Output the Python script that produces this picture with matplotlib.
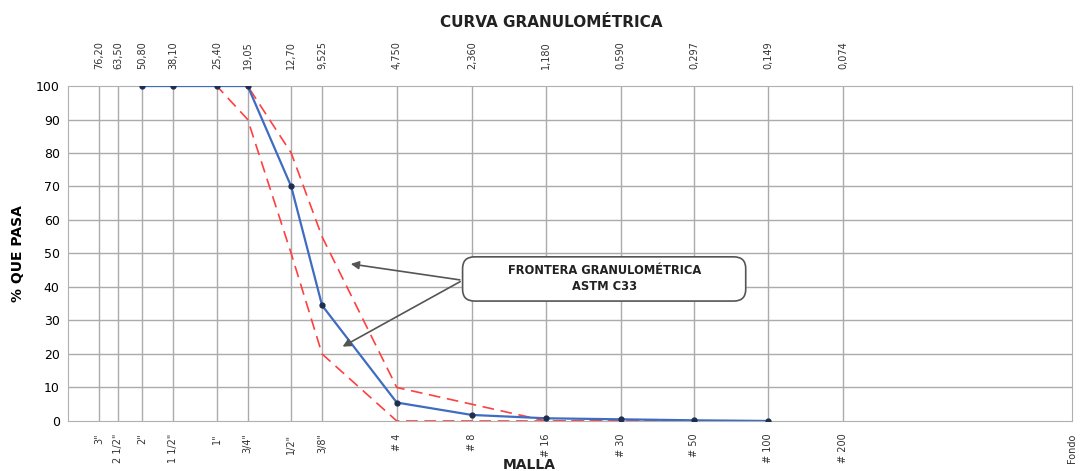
import numpy as np
import matplotlib
matplotlib.use('Agg')
import matplotlib.pyplot as plt
from matplotlib.ticker import NullLocator, FixedLocator
from matplotlib.patches import FancyBboxPatch

# sieve openings (mm) and names
sizes = [76.2, 63.5, 50.8, 38.1, 25.4, 19.05, 12.7, 9.525, 4.75, 2.36, 1.18, 0.59, 0.297, 0.149, 0.074, 0.0088]
size_labels = ['76,20', '63,50', '50,80', '38,10', '25,40', '19,05', '12,70', '9,525', '4,750',
               '2,360', '1,180', '0,590', '0,297', '0,149', '0,074', '']
sieve_labels = ['3"', '2 1/2"', '2"', '1 1/2"', '1"', '3/4"', '1/2"', '3/8"', '# 4', '# 8',
                '# 16', '# 30', '# 50', '# 100', '# 200', 'Fondo']

# sample curve
sample_sizes = [50.8, 38.1, 25.4, 19.05, 12.7, 9.525, 4.75, 2.36, 1.18, 0.59, 0.297, 0.149]
sample_pass = [100, 100, 100, 100, 70, 34.5, 5.5, 1.8, 0.8, 0.5, 0.2, 0]

# ASTM C33 limits
lim_sizes = [101.6, 76.2, 63.5, 50.8, 38.1, 25.4, 19.05, 12.7, 9.525, 4.75, 2.36, 1.18, 0.59, 0.297, 0.149]
upper = [100, 100, 100, 100, 100, 100, 100, 80, 55, 10, 5, 0, 0, 0, 0]
lower = [100, 100, 100, 100, 100, 100, 90, 50, 20, 0, 0, 0, 0, 0, 0]

fig = plt.figure(figsize=(10.81, 4.71), dpi=100)
ax = fig.add_axes([0.0629, 0.1062, 0.9288, 0.7112])
ax.set_xscale('log')
ax.set_xlim(101.6, 0.0088)
ax.set_ylim(0, 100)

grid_c = '#ababab'
for s in sizes[:-1]:
    ax.axvline(s, color=grid_c, lw=1.0, zorder=0)
for y in range(10, 100, 10):
    ax.axhline(y, color=grid_c, lw=1.0, zorder=0)
for sp in ax.spines.values():
    sp.set_color('#b0b0b0')

ax.plot(lim_sizes, upper, color='#ff4040', lw=1.2, ls=(0, (7, 4)), zorder=2)
ax.plot(lim_sizes, lower, color='#ff4040', lw=1.2, ls=(0, (7, 4)), zorder=2)
ax.plot(sample_sizes, sample_pass, color='#3f6cc0', lw=1.6, marker='o', ms=3.5,
        mfc='#1f2d4f', mec='#1f2d4f', zorder=3)

ax.xaxis.set_minor_locator(NullLocator())
ax.xaxis.set_major_locator(FixedLocator(sizes))
ax.set_xticklabels(sieve_labels, rotation=90, va='top', fontsize=7, color='#333333')
ax.set_yticks(range(0, 101, 10))
ax.tick_params(axis='y', length=0, labelsize=9, pad=6)
ax.tick_params(axis='x', length=0, pad=9)

top = ax.secondary_xaxis('top')
top.xaxis.set_minor_locator(NullLocator())
top.set_xticks(sizes)
top.set_xticklabels(size_labels, rotation=90, va='bottom', fontsize=7, color='#333333')
top.tick_params(length=0, pad=12)
top.spines['top'].set_visible(False)

ax.set_ylabel('% QUE PASA', fontsize=10, fontweight='bold', labelpad=8)
fig.text(0.49, 0.013, 'MALLA', ha='center', va='center', fontsize=10, fontweight='bold', color='#222222')
fig.text(0.51, 0.953, 'CURVA GRANULOMÉTRICA', ha='center', va='center', fontsize=11, fontweight='bold',
         color='#222222')

# annotation box (axes fraction)
box = FancyBboxPatch((0.393, 0.358), 0.282, 0.132, boxstyle='round,pad=0,rounding_size=0.012',
                     transform=ax.transAxes, fc='white', ec='#555555', lw=1.2, zorder=5,
                     mutation_aspect=2.9)
ax.add_patch(box)
ax.text(0.534, 0.424, 'FRONTERA GRANULOMÉTRICA\nASTM C33', transform=ax.transAxes, ha='center',
        va='center', fontsize=8.3, fontweight='bold', zorder=6, linespacing=1.3, color='#222222')
arrow = dict(arrowstyle='-|>', color='#555555', lw=1.2, mutation_scale=12)
ax.annotate('', xy=(7.48, 47), xytext=(0.393, 0.42), textcoords='axes fraction', arrowprops=arrow, zorder=4)
ax.annotate('', xy=(8.05, 21.8), xytext=(0.393, 0.42), textcoords='axes fraction', arrowprops=arrow, zorder=4)

fig.savefig('out.png', dpi=100)
